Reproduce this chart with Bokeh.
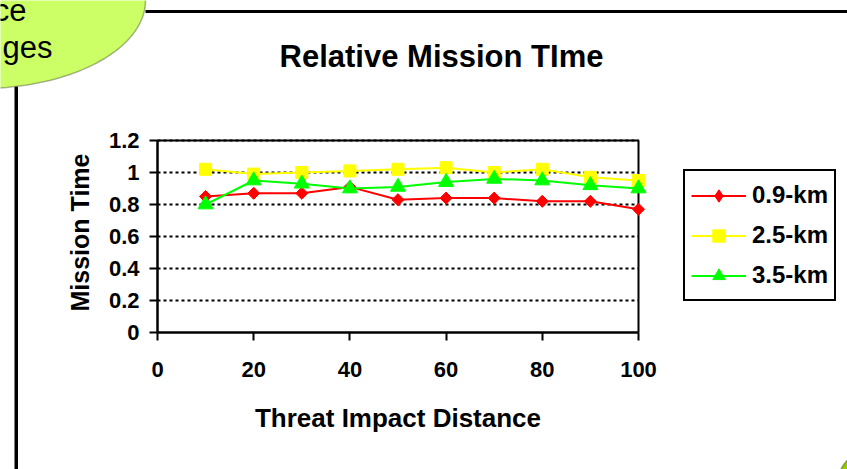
import math
from bokeh.plotting import figure
from bokeh.models import (Legend, LegendItem, Label, BoxAnnotation, PolyAnnotation,
                          FixedTicker, NumeralTickFormatter, Range1d, LinearAxis)
from bokeh.embed import file_html
from bokeh.resources import INLINE

# ---- data ----
distance = [10, 20, 30, 40, 50, 60, 70, 80, 90, 100]
km_09 = [0.85, 0.87, 0.87, 0.91, 0.83, 0.84, 0.84, 0.82, 0.82, 0.77]
km_25 = [1.02, 0.99, 1.00, 1.01, 1.02, 1.03, 1.00, 1.02, 0.97, 0.95]
km_35 = [0.80, 0.95, 0.93, 0.90, 0.91, 0.94, 0.96, 0.95, 0.92, 0.90]
series_names = ["0.9-km", "2.5-km", "3.5-km"]
x_ticks = [0, 20, 40, 60, 80, 100]
y_ticks = [0, 0.2, 0.4, 0.6, 0.8, 1.0, 1.2]
x_min, x_max = 0, 100
y_min, y_max = 0, 1.2

FONT = "Liberation Sans"
W, H = 847, 469
FL, FR, FT, FB = 157, 638, 140, 332   # plot-area edges in canvas px

# ranges chosen so that the plot area lands at FL..FR / FT..FB while the
# frame itself covers the whole canvas (so nothing gets clipped)
sx = (FR - FL) / (x_max - x_min)
sy = (FB - FT) / (y_max - y_min)
x_range = Range1d(x_min - FL / sx, x_max + (W - FR) / sx)
y_range = Range1d(y_min - (H - FB) / sy, y_max + FT / sy)


def cy(y):  # canvas y (from top) -> screen units (from bottom)
    return H - y


p = figure(width=W, height=H, x_range=x_range, y_range=y_range,
           output_backend="svg", toolbar_location=None,
           x_axis_location=None, y_axis_location=None,
           min_border=0, min_border_left=0, min_border_right=0,
           min_border_top=0, min_border_bottom=0)
p.background_fill_color = "white"
p.border_fill_color = "white"
p.outline_line_color = None
p.grid.visible = False

# slide decorations (drawn first, under everything else)
p.add_layout(BoxAnnotation(left=145, right=850, top=cy(9.5), bottom=cy(12.5),
                           left_units="screen", right_units="screen",
                           top_units="screen", bottom_units="screen",
                           fill_color="black", fill_alpha=1, line_alpha=0,
                           level="underlay"))
p.add_layout(BoxAnnotation(left=14, right=17.5, top=cy(86), bottom=cy(475),
                           left_units="screen", right_units="screen",
                           top_units="screen", bottom_units="screen",
                           fill_color="black", fill_alpha=1, line_alpha=0,
                           level="underlay"))
n = 160
ell_x = [-20 + 165 * math.cos(2 * math.pi * i / n) for i in range(n)]
ell_y = [cy(0 + 88 * math.sin(2 * math.pi * i / n)) for i in range(n)]
p.add_layout(PolyAnnotation(xs=ell_x, ys=ell_y, xs_units="screen", ys_units="screen",
                            fill_color="#CCFF66", fill_alpha=1,
                            line_color="black", line_width=1.5, level="underlay"))
cir_x = [880 + 45 * math.cos(2 * math.pi * i / n) for i in range(n)]
cir_y = [cy(490 + 45 * math.sin(2 * math.pi * i / n)) for i in range(n)]
p.add_layout(PolyAnnotation(xs=cir_x, ys=cir_y, xs_units="screen", ys_units="screen",
                            fill_color="#99CC00", fill_alpha=1,
                            line_color="black", line_width=1.5, level="underlay"))
p.add_layout(Label(x=26, y=cy(10), x_units="screen", y_units="screen", text="ce",
                   text_align="right", text_baseline="middle", text_font=FONT,
                   text_font_size="31px", text_color="black"))
p.add_layout(Label(x=52, y=cy(47), x_units="screen", y_units="screen", text="ges",
                   text_align="right", text_baseline="middle", text_font=FONT,
                   text_font_size="31px", text_color="black"))

# dotted gridlines and plot-area border (top / right)
p.segment(x0=x_min, x1=x_max, y0=y_ticks[1:], y1=y_ticks[1:],
          line_color="black", line_width=2.2, line_dash="3 3")
p.line([x_min, x_max, x_max], [y_max, y_max, y_min], line_color="black", line_width=2)

# axes drawn at fixed data locations
xaxis = LinearAxis(fixed_location=y_min, bounds=(x_min, x_max),
                   ticker=FixedTicker(ticks=x_ticks))
yaxis = LinearAxis(fixed_location=x_min, bounds=(y_min, y_max),
                   ticker=FixedTicker(ticks=y_ticks),
                   formatter=NumeralTickFormatter(format="0.[0]"))
for ax in (xaxis, yaxis):
    ax.axis_line_width = 2.5
    ax.axis_line_color = "black"
    ax.major_tick_line_width = 2
    ax.major_tick_line_color = "black"
    ax.major_tick_in = 0
    ax.major_tick_out = 8
    ax.minor_tick_line_color = None
    ax.major_label_text_font = FONT
    ax.major_label_text_font_style = "bold"
    ax.major_label_text_font_size = "22px"
    ax.major_label_text_color = "black"
xaxis.major_label_standoff = 21
yaxis.major_label_standoff = 10
p.add_layout(xaxis, "below")
p.add_layout(yaxis, "left")

# series
colors = ["#FF0000", "#FFFF00", "#00FF00"]
values = [km_09, km_25, km_35]
markers = [("square", math.pi / 4, 8.5), ("square", 0, 12), ("triangle", 0, 15)]
legend_markers = ["diamond", "square", "triangle"]
items = []
for name, vals, col, (mk, ang, sz), lmk in zip(series_names, values, colors,
                                               markers, legend_markers):
    ln = p.line(distance, vals, line_color=col, line_width=2)
    key = None
    if lmk != mk or ang != 0:
        # diamond drawn underneath (fully covered by the rotated square);
        # it supplies the legend key shape, since keys ignore the angle
        key = p.scatter(distance, vals, marker=lmk, size=sz * 1.25,
                        fill_color=col, line_color=col)
    sc = p.scatter(distance, vals, marker=mk, angle=ang, size=sz,
                   fill_color=col, line_color=col)
    items.append(LegendItem(label=name, renderers=[ln, key if key is not None else sc]))

legend = Legend(items=items, location=(683, cy(301)))
legend.border_line_color = "black"
legend.border_line_alpha = 1
legend.border_line_width = 2
legend.background_fill_color = "white"
legend.background_fill_alpha = 1
legend.label_text_font = FONT
legend.label_text_font_style = "bold"
legend.label_text_font_size = "24px"
legend.label_text_color = "black"
legend.glyph_width = 55
legend.glyph_height = 31
legend.label_height = 36
legend.spacing = 4
legend.padding = 6
legend.margin = 0
legend.label_standoff = 6
p.add_layout(legend)

# title and axis titles
p.add_layout(Label(x=441, y=cy(56), x_units="screen", y_units="screen",
                   text="Relative Mission TIme", text_align="center",
                   text_baseline="middle", text_font=FONT,
                   text_font_style="bold", text_font_size="31px",
                   text_color="black"))
p.add_layout(Label(x=(FL + FR) / 2, y=cy(417), x_units="screen", y_units="screen",
                   text="Threat Impact Distance", text_align="center",
                   text_baseline="middle", text_font=FONT,
                   text_font_style="bold", text_font_size="26px",
                   text_color="black"))
p.add_layout(Label(x=79, y=cy(232), x_units="screen", y_units="screen",
                   text="Mission Time", angle=math.pi / 2, text_align="center",
                   text_baseline="middle", text_font=FONT,
                   text_font_style="bold", text_font_size="25px",
                   text_color="black"))

open("out.html", "w").write(file_html(p, INLINE))
